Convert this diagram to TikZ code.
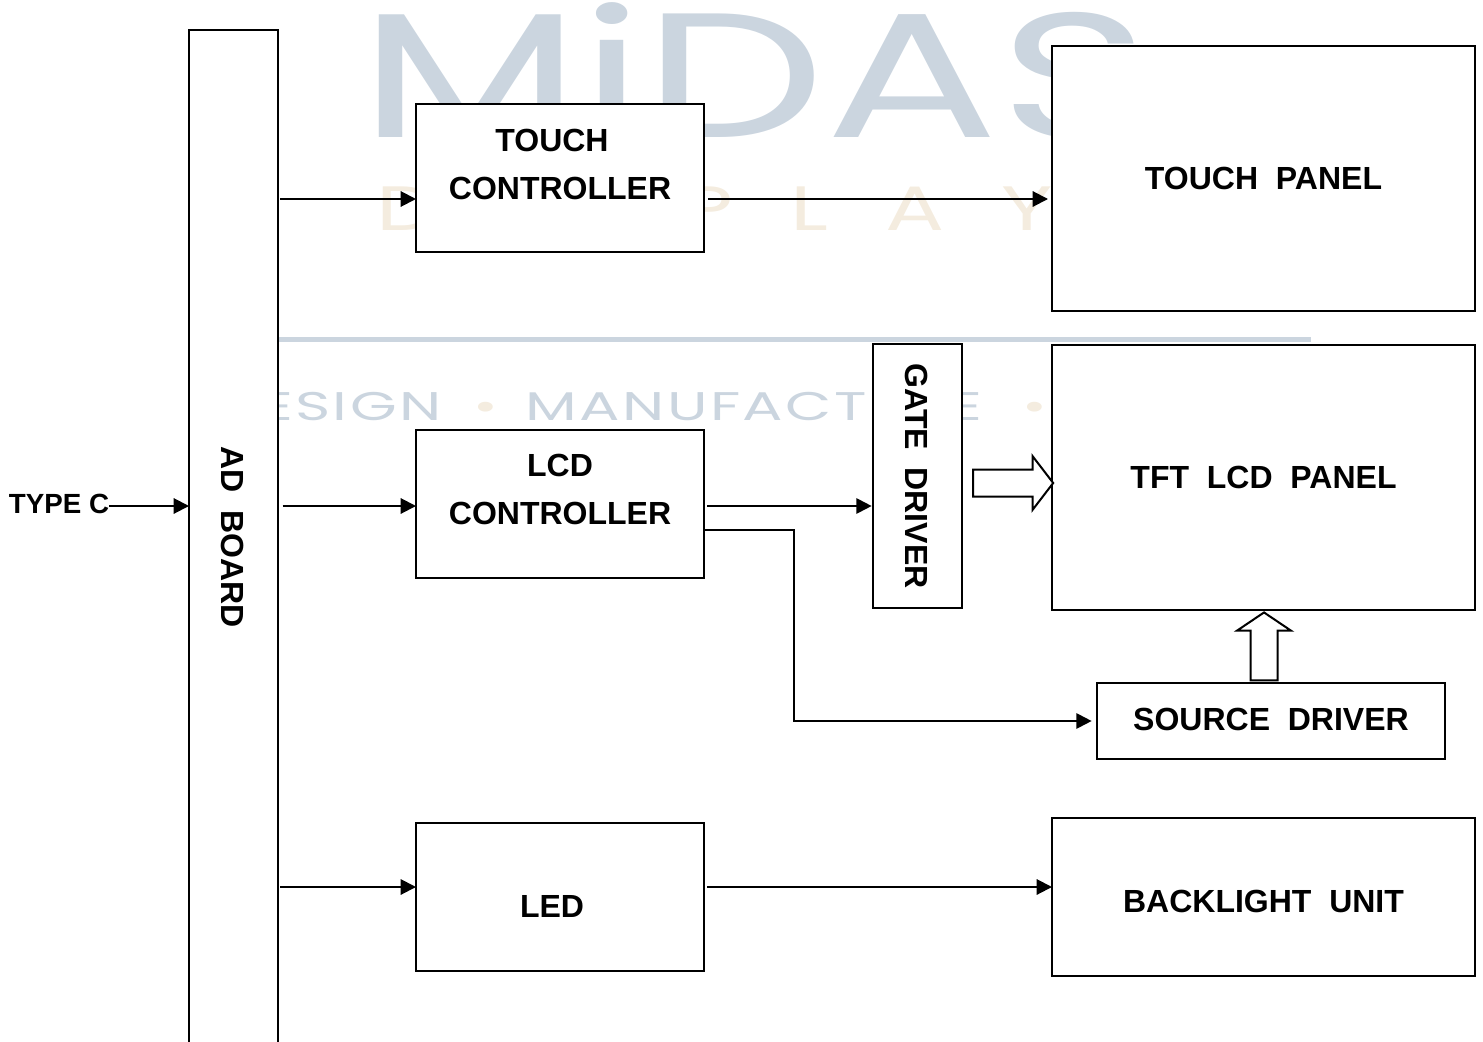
\documentclass[tikz,border=0pt]{standalone}
\usepackage{fontspec}
\setmainfont{Liberation Sans}
\newfontfamily\logofont{Poppins}
\newfontfamily\spacedfont[LetterSpace=65]{Poppins}
\newfontfamily\taglinefont[LetterSpace=4]{Poppins}
\usetikzlibrary{arrows.meta,shapes.arrows}
\definecolor{logoblue}{HTML}{CBD5DF}
\definecolor{logocream}{HTML}{F4ECDF}
\tikzset{
	blockbox/.style={draw,fill=white,line width=1.5pt,inner sep=0pt,outer sep=0pt,font=\fontsize{24}{36}\selectfont\bfseries,align=center},
	blocktext/.style={inner sep=0pt,font=\fontsize{24}{36}\selectfont\bfseries,align=center},
	link/.style={->,>={Triangle[length=11.5pt,width=11.5pt]},line width=1.5pt},
	hollow/.style={draw,fill=white,line width=1.5pt,single arrow,inner sep=0pt,outer sep=0pt,text height=18.75pt,text depth=0pt,text width=0pt}
}
\begin{document}
\begin{tikzpicture}[x=0.75pt,y=-0.75pt]
		\useasboundingbox (0,0) rectangle (1483,1041);
		\node[inner sep=0pt,anchor=base west,text=logoblue,font=\fontsize{133}{133}\selectfont\logofont] (logo) at (359,138) {\scalebox{1.45}[1]{MiDAS}};
		\node[inner sep=0pt,anchor=base west,text=logocream,font=\fontsize{47}{47}\selectfont\spacedfont] (logosub) at (376,230) {\scalebox{1.4}[1]{DISPLAY}};
		\fill[logoblue] (278,337) rectangle (1311,342);
		\node[inner sep=0pt,anchor=base west,text=logoblue,font=\fontsize{30}{30}\selectfont\taglinefont] (tagline) at (217,420) {\scalebox{1.5}[1]{DESIGN\hspace{7pt} \textcolor{logocream}{•}\hspace{4.5pt} MANUFACTURE\hspace{11pt} \textcolor{logocream}{•}}};
		\node[blockbox,minimum width=66.75pt,minimum height=761.25pt] (adboard) at (233.5,537.5) {};
		\node[blocktext,rotate=-90] (adtext) at (233,537) {AD\ \ BOARD};
		\node[blockbox,minimum width=216pt,minimum height=111pt] (touchctl) at (560,178) {};
		\node[blocktext] (touchtext) at (560,164) {TOUCH\hspace*{12pt}\\CONTROLLER};
		\node[blockbox,minimum width=216pt,minimum height=111pt] (lcdctl) at (560,504) {};
		\node[blocktext] (lcdtext) at (560,489) {LCD\\CONTROLLER};
		\node[blockbox,minimum width=216pt,minimum height=111pt] (led) at (560,897) {};
		\node[blocktext] (ledtext) at (552,906) {LED};
		\node[blockbox,minimum width=317.25pt,minimum height=198.75pt] (touchpanel) at (1263.5,178.5) {TOUCH\ \ PANEL};
		\node[blockbox,minimum width=317.25pt,minimum height=198.75pt] (tftpanel) at (1263.5,477.5) {TFT\ \ LCD\ \ PANEL};
		\node[blockbox,minimum width=317.25pt,minimum height=118.5pt] (backlight) at (1263.5,897) {};
		\node[blocktext] (backlighttext) at (1263.5,901) {BACKLIGHT\ \ UNIT};
		\node[blockbox,minimum width=261pt,minimum height=57pt] (source) at (1271,721) {};
		\node[blocktext] (sourcetext) at (1271,719) {SOURCE\ \ DRIVER};
		\node[blockbox,minimum width=66.75pt,minimum height=198pt] (gate) at (917.5,476) {};
		\node[blocktext,rotate=-90] (gatetext) at (917,476) {GATE\ \ DRIVER};
		\node[inner sep=0pt,font=\fontsize{20.8}{24}\selectfont\bfseries] (typec) at (59,504) {TYPE C};
		\node[hollow,minimum height=60pt,minimum width=39pt,single arrow head extend=10.1pt,single arrow tip angle=105] (gatearrow) at (1008,483) {};
		\node[hollow,minimum height=51pt,minimum width=40.5pt,single arrow head extend=10.1pt,single arrow tip angle=112,rotate=90] (sourcearrow) at (1264,651) {};
		\coordinate (touchlevel) at (0,199);
		\coordinate (lcdlevel) at (0,506);
		\coordinate (bendlevel) at (0,530);
		\coordinate (bendcolumn) at (794,0);
		\coordinate (ledlevel) at (0,887);
		\draw[link] (typec.east |- lcdlevel)--(adboard.west |- lcdlevel);
		\draw[link] ([xshift=1.5pt]adboard.east |- touchlevel)--(touchctl.west |- touchlevel);
		\draw[link] ([xshift=3.5pt]adboard.east |- lcdlevel)--(lcdctl.west |- lcdlevel);
		\draw[link] ([xshift=1.5pt]adboard.east |- ledlevel)--(led.west |- ledlevel);
		\draw[link] ([xshift=3pt]touchctl.east |- touchlevel)--([xshift=-3pt]touchpanel.west |- touchlevel);
		\draw[link] ([xshift=2.25pt]lcdctl.east |- lcdlevel)--([xshift=-1pt]gate.west |- lcdlevel);
		\draw[link] (lcdctl.east |- bendlevel)--(bendcolumn |- bendlevel)--(bendcolumn |- source.west)--([xshift=-4pt]source.west);
		\draw[link] ([xshift=2.25pt]led.east |- ledlevel)--(backlight.west |- ledlevel);
\end{tikzpicture}
\end{document}
